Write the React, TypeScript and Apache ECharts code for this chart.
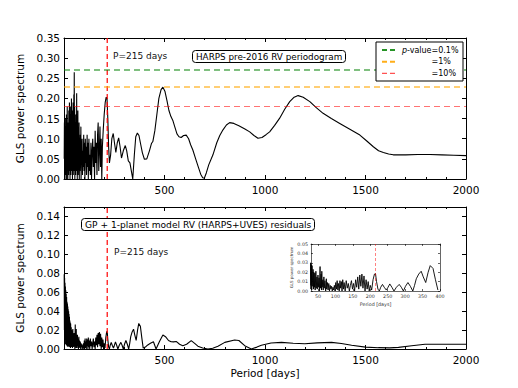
import React, { useEffect, useRef } from "react";
import * as echarts from "echarts";

const FONT = "DejaVu Sans";

// HARPS pre-2016 RV periodogram: [period (days), GLS power]
const topPeriodogram: [number, number][] = [
  [1, 0.05], [2, 0.14], [3, 0.02], [4, 0.12], [5, 0.0], [6, 0.15], [7, 0.03], [8, 0.09], [9, 0.01], [10, 0.13],
  [11, 0.04], [12, 0.16], [13, 0.0], [14, 0.1], [15, 0.05], [16, 0.18], [17, 0.02], [18, 0.11], [19, 0.0], [20, 0.14],
  [21, 0.06], [22, 0.12], [23, 0.01], [24, 0.17], [25, 0.03], [27, 0.19], [28, 0.02], [29, 0.13], [30, 0.0], [31, 0.16],
  [32, 0.05], [33, 0.18], [34, 0.01], [35, 0.11], [36, 0.03], [37, 0.2], [38, 0.02], [39, 0.14], [40, 0.06], [41, 0.17],
  [42, 0.0], [43, 0.12], [44, 0.04], [45, 0.19], [46, 0.01], [47, 0.15], [48, 0.05], [49, 0.21], [50, 0.02], [51, 0.265],
  [52, 0.06], [53, 0.18], [54, 0.0], [55, 0.14], [56, 0.03], [57, 0.12], [58, 0.01], [59, 0.16], [60, 0.04], [61, 0.1],
  [62, 0.02], [63, 0.213], [64, 0.05], [65, 0.15], [66, 0.0], [67, 0.13], [68, 0.03], [69, 0.17], [70, 0.01], [72, 0.12],
  [73, 0.04], [75, 0.14], [76, 0.0], [78, 0.09], [79, 0.02], [81, 0.11], [82, 0.03], [84, 0.13], [85, 0.0], [87, 0.08],
  [88, 0.04], [90, 0.1], [92, 0.01], [94, 0.07], [96, 0.03], [98, 0.11], [100, 0.02], [102, 0.09], [104, 0.0], [106, 0.1],
  [108, 0.04], [110, 0.08], [112, 0.01], [115, 0.11], [117, 0.03], [119, 0.09], [121, 0.0], [124, 0.1], [126, 0.02], [129, 0.06],
  [131, 0.01], [134, 0.09], [137, 0.0], [140, 0.07], [143, 0.1], [146, 0.03], [149, 0.08], [152, 0.0], [155, 0.12], [158, 0.04],
  [161, 0.09], [164, 0.01], [167, 0.11], [170, 0.14], [173, 0.02], [176, 0.07], [179, 0.13], [182, 0.03], [185, 0.1], [188, 0.0],
  [191, 0.08], [195, 0.12], [200, 0.16], [205, 0.19], [210, 0.203], [214, 0.2], [218, 0.15], [222, 0.08], [226, 0.04], [232, 0.06],
  [238, 0.1], [245, 0.113], [251, 0.09], [258, 0.066], [265, 0.09], [272, 0.102], [279, 0.08], [286, 0.052], [295, 0.07], [305, 0.083],
  [312, 0.07], [320, 0.045], [328, 0.04], [335, 0.02], [342, 0.0], [350, 0.06], [357, 0.105], [365, 0.114], [373, 0.108], [380, 0.09],
  [390, 0.065], [400, 0.049], [412, 0.05], [425, 0.07], [435, 0.088], [442, 0.093], [452, 0.12], [462, 0.16], [472, 0.2], [483, 0.222],
  [492, 0.228], [502, 0.218], [512, 0.195], [522, 0.17], [532, 0.155], [541, 0.146], [552, 0.128], [562, 0.112], [572, 0.105], [583, 0.103],
  [595, 0.108], [608, 0.109], [620, 0.1], [630, 0.085], [641, 0.072], [655, 0.05], [668, 0.03], [680, 0.012], [690, 0.003], [698, 0.002],
  [708, 0.015], [720, 0.035], [741, 0.06], [760, 0.09], [775, 0.108], [791, 0.122], [808, 0.134], [824, 0.14], [845, 0.138], [870, 0.132],
  [900, 0.124], [924, 0.117], [945, 0.108], [965, 0.101], [985, 0.103], [1005, 0.11], [1023, 0.117], [1048, 0.133], [1073, 0.151], [1098, 0.173],
  [1123, 0.192], [1145, 0.203], [1165, 0.207], [1190, 0.203], [1223, 0.192], [1255, 0.177], [1289, 0.163], [1330, 0.15], [1372, 0.138], [1420, 0.124],
  [1472, 0.109], [1505, 0.095], [1539, 0.08], [1565, 0.07], [1589, 0.066], [1615, 0.062], [1638, 0.06], [1700, 0.06], [1760, 0.061], [1820, 0.061],
  [1880, 0.06], [1940, 0.059], [2000, 0.058],
];

// GP + 1-planet model residual periodogram: [period (days), GLS power]
const residualPeriodogram: [number, number][] = [
  [1, 0.079], [2, 0.02], [3, 0.075], [4, 0.01], [5, 0.07], [6, 0.03], [7, 0.066], [8, 0.005], [9, 0.062], [10, 0.02],
  [11, 0.058], [12, 0.004], [13, 0.055], [14, 0.015], [15, 0.05], [16, 0.003], [17, 0.048], [18, 0.012], [19, 0.045], [20, 0.002],
  [21, 0.042], [22, 0.01], [23, 0.04], [24, 0.003], [25, 0.037], [26, 0.008], [27, 0.034], [28, 0.002], [29, 0.03], [30, 0.006],
  [31, 0.028], [32, 0.001], [33, 0.027], [35, 0.005], [36, 0.023], [37, 0.002], [38, 0.02], [40, 0.004], [41, 0.019], [42, 0.001],
  [44, 0.021], [45, 0.003], [47, 0.015], [48, 0.002], [50, 0.017], [51, 0.004], [53, 0.014], [54, 0.0], [56, 0.026], [57, 0.003],
  [59, 0.018], [60, 0.001], [61, 0.021], [62, 0.004], [64, 0.012], [65, 0.001], [67, 0.015], [68, 0.003], [70, 0.011], [72, 0.0],
  [74, 0.013], [75, 0.002], [77, 0.009], [79, 0.001], [81, 0.008], [83, 0.0], [85, 0.006], [87, 0.002], [89, 0.005], [91, 0.0],
  [93, 0.004], [95, 0.001], [97, 0.006], [99, 0.0], [101, 0.009], [103, 0.002], [105, 0.011], [107, 0.001], [109, 0.008], [111, 0.0],
  [113, 0.011], [115, 0.003], [117, 0.01], [119, 0.0], [121, 0.012], [123, 0.002], [125, 0.009], [128, 0.0], [131, 0.011], [134, 0.003],
  [137, 0.008], [140, 0.0], [143, 0.006], [146, 0.011], [149, 0.002], [152, 0.008], [155, 0.0], [158, 0.012], [161, 0.004], [164, 0.015],
  [167, 0.002], [170, 0.017], [173, 0.005], [176, 0.018], [179, 0.003], [182, 0.016], [185, 0.0], [188, 0.012], [191, 0.002], [194, 0.01],
  [197, 0.0], [200, 0.006], [204, 0.001], [208, 0.012], [212, 0.018], [215, 0.0185], [218, 0.01], [222, 0.002], [226, 0.0], [230, 0.004],
  [235, 0.007], [240, 0.004], [246, 0.001], [251, 0.004], [256, 0.0075], [262, 0.004], [268, 0.0], [275, 0.004], [283, 0.007], [289, 0.004],
  [295, 0.0], [301, 0.005], [308, 0.009], [315, 0.005], [322, 0.0], [327, 0.006], [332, 0.013], [339, 0.018], [346, 0.021], [352, 0.015],
  [359, 0.009], [366, 0.02], [372, 0.027], [380, 0.024], [387, 0.012], [394, 0.001], [405, 0.002], [415, 0.004], [430, 0.006], [445, 0.0077],
  [458, 0.0], [475, 0.008], [492, 0.0148], [505, 0.013], [520, 0.009], [533, 0.0077], [545, 0.0075], [558, 0.008], [575, 0.005], [591, 0.0035],
  [610, 0.005], [633, 0.0088], [650, 0.006], [666, 0.003], [690, 0.001], [716, 0.0], [740, 0.0008], [766, 0.003], [800, 0.007], [849, 0.0095],
  [870, 0.009], [899, 0.0035], [932, 0.0], [960, 0.002], [982, 0.004], [1030, 0.0063], [1082, 0.007], [1140, 0.006], [1198, 0.0056], [1260, 0.0065],
  [1331, 0.007], [1380, 0.0058], [1431, 0.004], [1500, 0.002], [1564, 0.0014], [1620, 0.0012], [1664, 0.0017], [1730, 0.0035], [1796, 0.005], [1900, 0.005],
  [1979, 0.005], [2000, 0.005],
];

const fapLevels = [0.27, 0.23, 0.18]; // p-value 0.1%, 1%, 10%
const fapLabels = ["=0.1%", "=1%", "=10%"];
const planetPeriod = 215;
const insetTicks = [50, 100, 150, 200, 250, 300, 350, 400];

const fapLineColors = ["rgba(0,128,0,0.5)", "rgba(255,165,0,0.55)", "rgba(255,0,0,0.55)"];
const fapLegendColors = ["rgba(0,128,0,0.85)", "rgba(255,165,0,0.9)", "rgba(255,0,0,0.85)"];
const fapWidths = [2, 2, 1];

const plainNum = (v: number) => String(v);

function xAxisPair(grid: number, min: number, max: number, opts: any) {
  const common = {
    gridIndex: grid,
    type: "value",
    min,
    max,
    splitLine: { show: false },
    axisLine: { show: true, onZero: false, lineStyle: { color: "#000", width: opts.lw } },
    axisTick: { show: true, inside: true, length: opts.tick, lineStyle: { color: "#000", width: opts.lw }, ...(opts.customTicks ? { customValues: opts.customTicks } : {}) },
    minorTick: { show: !!opts.minor, splitNumber: 5, length: opts.tick / 2, lineStyle: { color: "#000", width: opts.lw } },
    ...(opts.interval ? { interval: opts.interval } : {}),
  };
  return [
    {
      ...common,
      position: "bottom",
      name: opts.name || "",
      nameLocation: "middle",
      nameGap: opts.nameGap || 0,
      nameTextStyle: { fontFamily: FONT, fontSize: opts.nameSize || 10.5, color: opts.color || "#000" },
      axisLabel: {
        show: true,
        showMinLabel: opts.showMin,
        color: opts.color || "#000",
        fontFamily: FONT,
        fontSize: opts.labelSize,
        margin: opts.margin,
        formatter: plainNum,
        ...(opts.customTicks ? { customValues: opts.customTicks } : {}),
      },
    },
    { ...common, position: "top", axisLabel: { show: false }, name: "" },
  ];
}

function yAxisPair(grid: number, min: number, max: number, interval: number, opts: any) {
  const common = {
    gridIndex: grid,
    type: "value",
    min,
    max,
    interval,
    splitLine: { show: false },
    axisLine: { show: true, onZero: false, lineStyle: { color: "#000", width: opts.lw } },
    axisTick: { show: true, inside: true, length: opts.tick, lineStyle: { color: "#000", width: opts.lw } },
  };
  return [
    {
      ...common,
      position: "left",
      name: opts.name,
      nameLocation: "middle",
      nameRotate: 90,
      nameGap: opts.nameGap,
      nameTextStyle: { fontFamily: FONT, fontSize: opts.nameSize, color: opts.color || "#000" },
      axisLabel: {
        show: true,
        color: opts.color || "#000",
        fontFamily: FONT,
        fontSize: opts.labelSize,
        margin: opts.margin,
        showMaxLabel: opts.showMax,
        formatter: (v: number) => v.toFixed(2),
      },
    },
    { ...common, position: "right", axisLabel: { show: false }, name: "" },
  ];
}

const boxText = (text: string, left: number, top: number, size: number) => ({
  text,
  left,
  top,
  padding: [1, 4, 1, 4],
  borderColor: "#000",
  borderWidth: 1,
  borderRadius: 3,
  backgroundColor: "#fff",
  textStyle: { fontFamily: FONT, fontSize: size, fontWeight: "normal", color: "#000", lineHeight: 11 },
  z: 10,
});

const plainText = (text: string, left: number, top: number) => ({
  text,
  left,
  top,
  padding: 0,
  textStyle: { fontFamily: FONT, fontSize: 9, fontWeight: "normal", color: "#111" },
});

const periodMarker = (xi: number, yMax: number, style: any) => ({
  type: "line",
  xAxisIndex: xi,
  yAxisIndex: xi,
  data: [
    [planetPeriod, 0],
    [planetPeriod, yMax],
  ],
  showSymbol: false,
  silent: true,
  lineStyle: style,
  z: 4,
});

export default function App() {
  const ref = useRef<HTMLDivElement>(null);

  useEffect(() => {
    if (!ref.current) return;
    const chart = echarts.init(ref.current, undefined, { renderer: "svg" });

    const insetData = residualPeriodogram.filter((p) => p[0] >= 28 && p[0] <= 402);

    const legendRows = [50, 61.7, 73.3];
    const legendFont = `8px "${FONT}"`;
    const legendGraphics: any[] = [
      {
        type: "rect",
        z: 100,
        shape: { x: 376, y: 42, width: 87, height: 39 },
        style: { fill: "#fff", stroke: "#000", lineWidth: 1 },
      },
    ];
    fapLabels.forEach((lab, i) => {
      legendGraphics.push({
        type: "line",
        z: 101,
        shape: { x1: 382, y1: legendRows[i], x2: 396, y2: legendRows[i] },
        style: { stroke: fapLegendColors[i], lineWidth: fapWidths[i], lineDash: [5, 3] },
      });
      legendGraphics.push({
        type: "text",
        z: 101,
        x: 431.5,
        y: legendRows[i],
        style: { text: lab, fill: "#000", font: legendFont, textAlign: "left", textVerticalAlign: "middle" },
      });
    });
    legendGraphics.push({
      type: "text",
      z: 101,
      x: 431.5,
      y: legendRows[0],
      style: { text: "-value", fill: "#000", font: legendFont, textAlign: "right", textVerticalAlign: "middle" },
    });
    legendGraphics.push({
      type: "text",
      z: 101,
      x: 402,
      y: legendRows[0],
      style: { text: "p", fill: "#000", font: `italic ${legendFont}`, textAlign: "left", textVerticalAlign: "middle" },
    });

    const mainLine = { color: "#000", width: 1.1 };

    const option: any = {
      animation: false,
      backgroundColor: "#fff",
      textStyle: { fontFamily: FONT },
      grid: [
        { left: 64, top: 38, width: 402, height: 141 },
        { left: 64, top: 207, width: 402, height: 142 },
        { left: 311, top: 244, width: 129, height: 47, z: 20 },
      ],
      title: [
        plainText("P=215 days", 113, 51),
        boxText("HARPS pre-2016 RV periodogram", 192, 50, 8.8),
        boxText("GP + 1-planet model RV (HARPS+UVES) residuals", 81, 218, 9.1),
        plainText("P=215 days", 114, 247),
      ],
      xAxis: [
        ...xAxisPair(0, 0, 2000, { lw: 1, tick: 4, minor: true, interval: 500, showMin: false, labelSize: 10.5, margin: 5 }),
        ...xAxisPair(1, 0, 2000, {
          lw: 1, tick: 4, minor: true, interval: 500, showMin: false, labelSize: 10.5, margin: 5,
          name: "Period [days]", nameGap: 18, nameSize: 10.5,
        }),
        ...xAxisPair(2, 30, 400, {
          lw: 0.6, tick: 2, minor: false, customTicks: insetTicks, showMin: true, labelSize: 4.8, margin: 3,
          name: "Period [days]", nameGap: 11, nameSize: 4.8, color: "#333",
        }),
      ],
      yAxis: [
        ...yAxisPair(0, 0, 0.35, 0.05, { lw: 1, tick: 4, name: "GLS power spectrum", nameGap: 31, nameSize: 10.5, labelSize: 10.5, margin: 4, showMax: true }),
        ...yAxisPair(1, 0, 0.15, 0.02, { lw: 1, tick: 4, name: "GLS power spectrum", nameGap: 31, nameSize: 10.5, labelSize: 10.5, margin: 4, showMax: false }),
        ...yAxisPair(2, 0, 0.05, 0.01, { lw: 0.6, tick: 2, name: "GLS power spectrum", nameGap: 18, nameSize: 4, labelSize: 4.8, margin: 3, showMax: true, color: "#333" }),
      ],
      series: [
        {
          type: "line",
          xAxisIndex: 0,
          yAxisIndex: 0,
          data: topPeriodogram,
          showSymbol: false,
          lineStyle: mainLine,
          z: 3,
          markLine: {
            silent: true,
            symbol: "none",
            label: { show: false },
            data: fapLevels.map((v, i) => ({
              yAxis: v,
              lineStyle: { color: fapLineColors[i], width: fapWidths[i], type: [6, 4] },
            })),
          },
        },
        { ...periodMarker(0, 0.35, { color: "#ff0000", width: 1.2, type: [5, 3] }), xAxisIndex: 0, yAxisIndex: 0 },
        {
          type: "line",
          xAxisIndex: 2,
          yAxisIndex: 2,
          data: residualPeriodogram,
          showSymbol: false,
          lineStyle: mainLine,
          z: 3,
        },
        { ...periodMarker(2, 0.15, { color: "#ff0000", width: 1.2, type: [5, 3] }), xAxisIndex: 2, yAxisIndex: 2 },
        {
          type: "line",
          xAxisIndex: 4,
          yAxisIndex: 4,
          data: insetData,
          showSymbol: false,
          clip: true,
          lineStyle: { color: "#000", width: 0.9 },
          z: 21,
        },
        { ...periodMarker(4, 0.05, { color: "rgba(255,0,0,0.7)", width: 0.7, type: [3, 2] }), xAxisIndex: 4, yAxisIndex: 4, z: 22 },
      ],
      graphic: legendGraphics,
    };

    chart.setOption(option);
    return () => chart.dispose();
  }, []);

  return <div ref={ref} style={{ position: "absolute", left: 0, top: 0, width: 518, height: 388 }} />;
}
